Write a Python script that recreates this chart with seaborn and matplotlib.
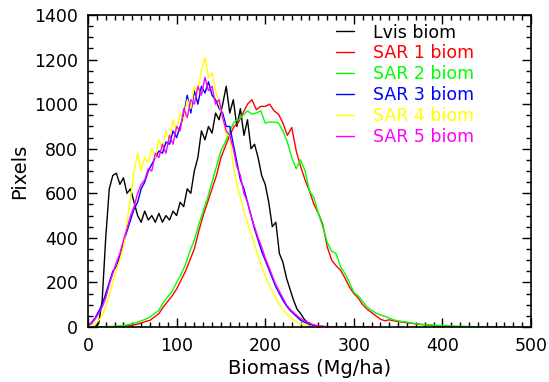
import numpy as np
import pandas as pd
import matplotlib
matplotlib.use("Agg")
import matplotlib.pyplot as plt
from matplotlib.ticker import MultipleLocator
import seaborn as sns

# noisy histograms, 4 Mg/ha bins
x_fine = list(range(0, 324, 4))

lvis = [0, 0, 2, 15, 120, 400, 620, 680, 690, 640,
        670, 600, 620, 560, 500, 470, 520, 480, 500, 470,
        510, 470, 500, 480, 520, 500, 560, 540, 620, 600,
        700, 760, 880, 840, 900, 870, 960, 930, 1000, 1080,
        960, 1020, 900, 980, 860, 930, 800, 820, 760, 680,
        640, 560, 450, 470, 330, 290, 220, 170, 120, 80,
        60, 35, 20, 10, 5, 2, 0, 0, 0, 0,
        0, 0, 0, 0, 0, 0, 0, 0, 0, 0, 0]

sar3 = [5, 20, 40, 70, 100, 150, 200, 250, 270, 320,
        380, 430, 480, 530, 560, 620, 650, 700, 730, 760,
        790, 780, 830, 820, 880, 850, 900, 950, 1040, 960,
        1060, 1000, 1080, 1050, 1100, 1040, 1020, 980, 960, 900,
        900, 820, 740, 660, 620, 560, 500, 440, 390, 340,
        300, 260, 220, 180, 150, 120, 95, 75, 60, 45,
        30, 22, 15, 10, 6, 4, 2, 1, 0, 0,
        0, 0, 0, 0, 0, 0, 0, 0, 0, 0, 0]

sar4 = [0, 5, 15, 30, 50, 90, 140, 200, 260, 300,
        360, 470, 580, 700, 780, 700, 760, 740, 800, 760,
        840, 800, 880, 840, 930, 880, 960, 930, 1020, 980,
        1080, 1050, 1150, 1210, 1120, 1140, 1060, 1000, 940, 860,
        860, 720, 640, 580, 520, 470, 420, 370, 320, 270,
        230, 190, 160, 130, 100, 80, 60, 45, 32, 22,
        15, 10, 6, 3, 1, 0, 0, 0, 0, 0,
        0, 0, 0, 0, 0, 0, 0, 0, 0, 0, 0]

sar5 = [5, 15, 35, 60, 90, 130, 190, 240, 290, 330,
        390, 440, 500, 540, 600, 640, 660, 710, 700, 780,
        760, 820, 780, 860, 820, 900, 880, 980, 940, 1020,
        1000, 1080, 1040, 1120, 1060, 1080, 1000, 1020, 940, 880,
        860, 800, 720, 680, 600, 560, 500, 450, 400, 360,
        310, 270, 230, 190, 160, 130, 100, 80, 65, 50,
        38, 28, 20, 14, 9, 6, 4, 2, 1, 0,
        0, 0, 0, 0, 0, 0, 0, 0, 0, 0, 0]

# smoother histograms, 5 Mg/ha bins
x_coarse = list(range(0, 505, 5))

sar1 = [0, 0, 0, 0, 1, 1, 2, 3, 4, 6,
        8, 12, 18, 25, 30, 45, 60, 90, 115, 140,
        170, 210, 250, 300, 350, 430, 500, 560, 620, 680,
        760, 810, 860, 900, 920, 960, 1000, 1020, 975, 990,
        990, 1000, 970, 955, 915, 860, 895, 790, 720, 660,
        610, 550, 510, 460, 360, 300, 275, 255, 220, 180,
        150, 130, 100, 80, 65, 50, 35, 28, 32, 28,
        24, 22, 19, 17, 14, 12, 10, 8, 7, 5,
        4, 3, 3, 2, 2, 2, 1, 1, 1, 1,
        1, 0, 0, 0, 0, 0, 0, 0, 0, 0, 0]

sar2 = [0, 0, 1, 1, 2, 2, 3, 5, 7, 10,
        14, 20, 28, 35, 45, 60, 75, 110, 135, 160,
        200, 235, 280, 340, 390, 460, 520, 580, 650, 720,
        790, 830, 880, 920, 930, 950, 970, 955, 960, 970,
        915, 920, 920, 915, 880, 830, 760, 710, 750, 700,
        610, 580, 510, 450, 380, 340, 330, 270, 240, 200,
        155, 140, 115, 90, 75, 62, 55, 48, 40, 32,
        28, 24, 22, 18, 15, 12, 10, 9, 8, 7,
        6, 5, 4, 3, 3, 2, 2, 2, 1, 1,
        1, 1, 1, 1, 1, 0, 0, 0, 0, 0, 0]

labels = ["Lvis biom", "SAR 1 biom", "SAR 2 biom", "SAR 3 biom", "SAR 4 biom", "SAR 5 biom"]
colors = ["black", "#ff0000", "#00ff00", "#0000ff", "#ffff00", "#ff00ff"]

series = {
    "Lvis biom": (x_fine, lvis),
    "SAR 1 biom": (x_coarse, sar1),
    "SAR 2 biom": (x_coarse, sar2),
    "SAR 3 biom": (x_fine, sar3),
    "SAR 4 biom": (x_fine, sar4),
    "SAR 5 biom": (x_fine, sar5),
}
frames = []
for name in labels:
    xs, ys = series[name]
    frames.append(pd.DataFrame({"biomass": xs, "pixels": ys, "series": name}))
df = pd.concat(frames, ignore_index=True)

sns.set_style("ticks")
plt.rcParams["font.family"] = ["DejaVu Sans"]
plt.rcParams.update({
    "text.color": "black",
    "axes.labelcolor": "black",
    "axes.edgecolor": "black",
    "xtick.color": "black",
    "ytick.color": "black",
})

fig = plt.figure(figsize=(5.49, 3.82), dpi=100)
ax = fig.add_axes([0.1603, 0.144, 0.8069, 0.8167])

sns.lineplot(data=df, x="biomass", y="pixels", hue="series", hue_order=labels,
             palette=colors, linewidth=1, estimator=None, ax=ax, legend=False)

ax.set_xlim(0, 500)
ax.set_ylim(0, 1400)
ax.xaxis.set_major_locator(MultipleLocator(100))
ax.xaxis.set_minor_locator(MultipleLocator(10))
ax.yaxis.set_major_locator(MultipleLocator(200))
ax.yaxis.set_minor_locator(MultipleLocator(50))
ax.tick_params(which="both", direction="in", top=True, right=True, width=1, labelsize=12.5)
ax.tick_params(which="major", length=6.5, pad=7)
ax.tick_params(which="minor", length=3.5)
for sp in ax.spines.values():
    sp.set_linewidth(1.2)

ax.set_xlabel("Biomass (Mg/ha)", fontsize=14, labelpad=3)
ax.set_ylabel("Pixels", fontsize=14, labelpad=4)

handles = [plt.Line2D([], [], color=c, linewidth=1) for c in colors]
ax.legend(handles, labels, loc="upper left", bbox_to_anchor=(0.545, 0.995),
          frameon=False, fontsize=12.5, labelcolor=colors, handlelength=1.0,
          handletextpad=1.1, labelspacing=0.17, borderaxespad=0)

fig.savefig("out.png", dpi=100)
